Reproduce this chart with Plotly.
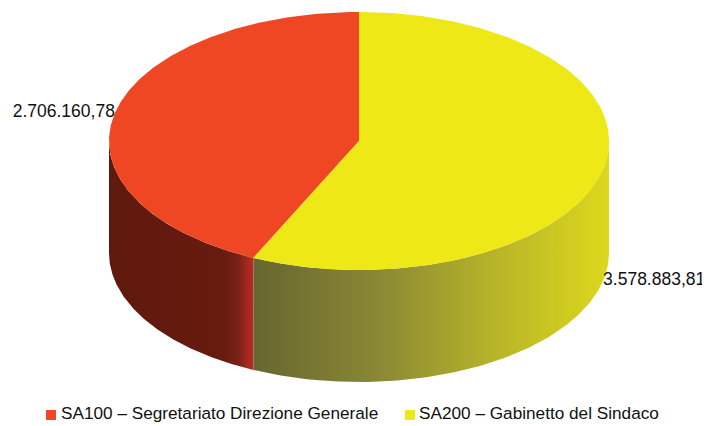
import numpy as np
import plotly.graph_objects as go

# data
labels = ["SA100 – Segretariato Direzione Generale", "SA200 – Gabinetto del Sindaco"]
values = [2706160.78, 3578883.81]

top_colors = ["#EF4623", "#EDE816"]
side_scales = [
    [[0, "#5f190d"], [0.8, "#681b0f"], [0.9, "#7a2216"], [0.96, "#a8281f"], [1, "#b82c24"]],
    [[0, "#676630"], [0.35, "#8a8834"], [0.7, "#bab728"], [1, "#dcd81c"]],
]

# pie geometry (page pixels; y grows down)
cx, cy, rx, ry, depth = 359, 141, 250, 129, 112
# the page body has an 8px margin, so shift the axes to page pixels
off = 8


def it_fmt(v):
    s = f"{v:,.2f}"
    return s.replace(",", "#").replace(".", ",").replace("#", ".")


def pt(theta, dy=0.0):
    t = np.radians(theta)
    return cx + rx * np.sin(t), cy - ry * np.cos(t) + dy


fracs = np.array(values) / sum(values)
# red goes counter-clockwise from 12 o'clock, yellow clockwise
spans = [(360 - fracs[0] * 360, 360), (0, fracs[1] * 360)]

fig = go.Figure()

# side faces (only the front half, 90..270 deg, is visible)
for (a0, a1), scale in zip(spans, side_scales):
    lo, hi = max(a0, 90), min(a1, 270)
    if hi <= lo:
        continue
    th = np.linspace(lo, hi, 120)
    xt, yt = pt(th)
    xb, yb = pt(th[::-1], depth)
    fig.add_trace(go.Scatter(
        x=np.concatenate([xt, xb, xt[:1]]), y=np.concatenate([yt, yb, yt[:1]]),
        mode="lines", fill="toself", line=dict(width=0),
        fillgradient=dict(type="horizontal", colorscale=scale),
        hoverinfo="skip", showlegend=False,
    ))

# top faces
for (a0, a1), col in zip(spans, top_colors):
    th = np.linspace(a0, a1, 200)
    xs, ys = pt(th)
    fig.add_trace(go.Scatter(
        x=np.concatenate([[cx], xs, [cx]]), y=np.concatenate([[cy], ys, [cy]]),
        mode="lines", fill="toself", fillcolor=col, line=dict(width=0),
        hoverinfo="skip", showlegend=False,
    ))

# value labels at the middle of each slice edge
for (a0, a1), v in zip(spans, values):
    mid = (a0 + a1) / 2
    front = np.cos(np.radians(mid)) < 0
    x, y = pt(mid, depth if front else 0)
    right = np.sin(np.radians(mid)) > 0
    fig.add_trace(go.Scatter(
        x=[x], y=[y], mode="text", text=[it_fmt(v)],
        textposition="middle right" if right else "middle left",
        textfont=dict(size=17.5, color="#111111"),
        hoverinfo="skip", showlegend=False,
    ))

# legend row at the bottom
leg_sq_x = [51, 410]
leg_txt_x = [61, 419]
leg_y = 415
fig.add_trace(go.Scatter(
    x=leg_sq_x, y=[leg_y] * 2, mode="markers",
    marker=dict(symbol="square", size=10, color=top_colors),
    hoverinfo="skip", showlegend=False,
))
fig.add_trace(go.Scatter(
    x=leg_txt_x, y=[leg_y] * 2, mode="text", text=labels,
    textposition="middle right",
    textfont=dict(family="Liberation Sans, Arial, sans-serif", size=17.2, color="#111111"),
    hoverinfo="skip", showlegend=False,
))

fig.update_layout(
    width=710, height=426,
    margin=dict(l=0, r=0, t=0, b=0),
    paper_bgcolor="white", plot_bgcolor="white",
    font=dict(family="Liberation Sans, Arial, sans-serif", size=15, color="#111111"),
    xaxis=dict(range=[off, 710 + off], visible=False, fixedrange=True),
    yaxis=dict(range=[426 + off, off], visible=False, fixedrange=True),
    showlegend=False,
)

fig.write_html("out.html")
